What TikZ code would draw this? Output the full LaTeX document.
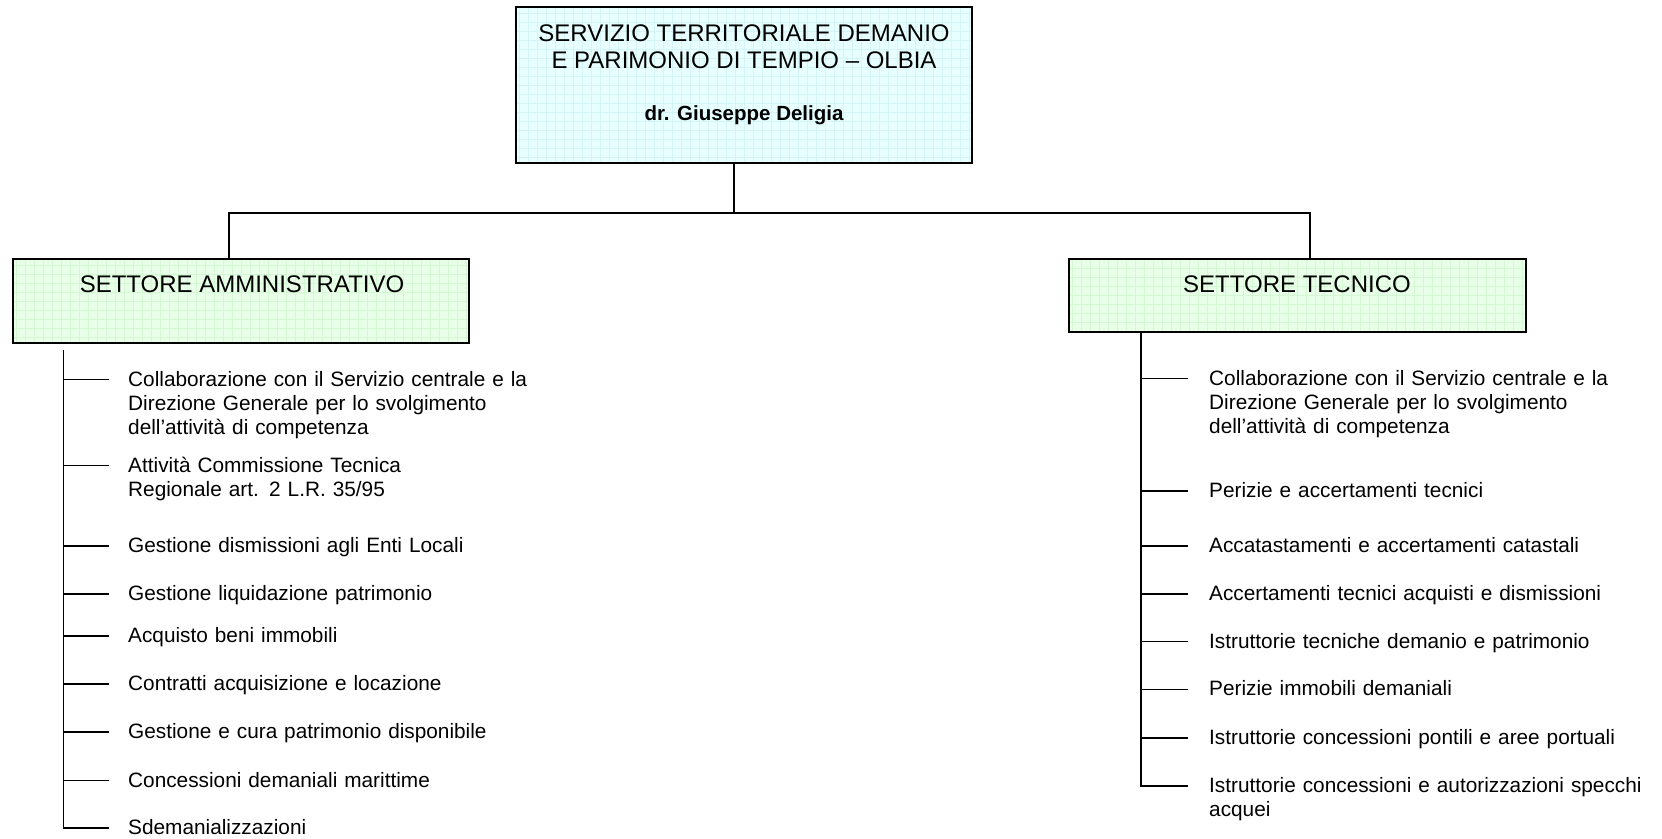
\documentclass[tikz,border=0pt]{standalone}
\usepackage{fontspec}
\setmainfont{Liberation Sans}
\usetikzlibrary{positioning}
\definecolor{servfill}{RGB}{232, 255, 255}
\definecolor{servgrid}{RGB}{212, 244, 248}
\definecolor{settfill}{RGB}{232, 255, 232}
\definecolor{settgrid}{RGB}{212, 247, 212}

\tikzset{
	gridbox/.style={draw=black, line width=2pt, inner sep=0pt,
		path picture={\draw[#1, line width=0.5pt, step=9pt] (path picture bounding box.south west) grid (path picture bounding box.north east);}},
	servbox/.style={gridbox=servgrid, fill=servfill},
	settbox/.style={gridbox=settgrid, fill=settfill},
	headtext/.style={inner sep=0pt, align=center, font=\fontsize{24}{27.6}\selectfont},
	nametext/.style={inner sep=0pt, font=\fontsize{20.5}{24}\selectfont\bfseries},
	taskitem/.style={inner sep=0pt, anchor=base west, align=left, text width=460pt, font=\fontsize{20.8}{24.4}\selectfont},
	conn/.style={line width=1.6pt, line join=miter}
}

\begin{document}
\begin{tikzpicture}[x=1pt, y=-1pt]
			\useasboundingbox (0,0) rectangle (1662,838);

			% servizio
			\node[servbox, minimum width=456pt, minimum height=156pt] (servizio) at (744,85.3) {};
			\node[headtext] (servtitle) at (744,46.7) {SERVIZIO TERRITORIALE DEMANIO\\E PARIMONIO DI TEMPIO – OLBIA};
			\node[nametext] (servname) at (744,115.6) {dr. Giuseppe Deligia};

			% settori
			\node[settbox, minimum width=456pt, minimum height=84pt] (amministrativo) at (241,301) {};
			\node[headtext] (amtitle) at (242,284.5) {SETTORE AMMINISTRATIVO};
			\node[settbox, minimum width=457pt, minimum height=73pt] (tecnico) at (1297.5,295.5) {};
			\node[headtext] (tctitle) at (1297,284.5) {SETTORE TECNICO};

			\coordinate (split) at (734,213);
			\coordinate (amjoin) at (229,213);
			\coordinate (tcjoin) at (1310,213);
			\draw[conn] (servizio.south -| split) -- (split);
			\draw[conn] (amministrativo.north -| amjoin) -- (amjoin) -- (tcjoin) -- (tecnico.north -| tcjoin);

			% settore amministrativo
			\node[taskitem] (a1) at (128,386) {Collaborazione con il Servizio centrale e la\\Direzione Generale per lo svolgimento\\dell’attività di competenza};
			\node[taskitem] (a2) at (128,472) {Attività Commissione Tecnica\\Regionale art. 2 L.R. 35/95};
			\node[taskitem] (a3) at (128,552.5) {Gestione dismissioni agli Enti Locali};
			\node[taskitem] (a4) at (128,600.3) {Gestione liquidazione patrimonio};
			\node[taskitem] (a5) at (128,642.7) {Acquisto beni immobili};
			\node[taskitem] (a6) at (128,690.5) {Contratti acquisizione e locazione};
			\node[taskitem] (a7) at (128,738.2) {Gestione e cura patrimonio disponibile};
			\node[taskitem] (a8) at (128,787) {Concessioni demaniali marittime};
			\node[taskitem] (a9) at (128,834.7) {Sdemanializzazioni};

			\coordinate (amtrunk) at (63.6,350);
			\draw[conn] (amtrunk) -- ([shift={(-64.4pt,6.5pt)}]a9.base west) -- ++(45.4pt,0pt);
			\draw[conn] ([shift={(-64.4pt,6.5pt)}]a1.base west) -- ++(45.4pt,0pt);
			\draw[conn] ([shift={(-64.4pt,6.5pt)}]a2.base west) -- ++(45.4pt,0pt);
			\draw[conn] ([shift={(-64.4pt,6.5pt)}]a3.base west) -- ++(45.4pt,0pt);
			\draw[conn] ([shift={(-64.4pt,6.5pt)}]a4.base west) -- ++(45.4pt,0pt);
			\draw[conn] ([shift={(-64.4pt,6.5pt)}]a5.base west) -- ++(45.4pt,0pt);
			\draw[conn] ([shift={(-64.4pt,6.5pt)}]a6.base west) -- ++(45.4pt,0pt);
			\draw[conn] ([shift={(-64.4pt,6.5pt)}]a7.base west) -- ++(45.4pt,0pt);
			\draw[conn] ([shift={(-64.4pt,6.5pt)}]a8.base west) -- ++(45.4pt,0pt);

			% settore tecnico
			\node[taskitem] (t1) at (1209,385.1) {Collaborazione con il Servizio centrale e la\\Direzione Generale per lo svolgimento\\dell’attività di competenza};
			\node[taskitem] (t2) at (1209,497.5) {Perizie e accertamenti tecnici};
			\node[taskitem] (t3) at (1209,552.5) {Accatastamenti e accertamenti catastali};
			\node[taskitem] (t4) at (1209,600.3) {Accertamenti tecnici acquisti e dismissioni};
			\node[taskitem] (t5) at (1209,648) {Istruttorie tecniche demanio e patrimonio};
			\node[taskitem] (t6) at (1209,695.8) {Perizie immobili demaniali};
			\node[taskitem] (t7) at (1209,744.5) {Istruttorie concessioni pontili e aree portuali};
			\node[taskitem] (t8) at (1209,792.3) {Istruttorie concessioni e autorizzazioni specchi\\acquei};

			\coordinate (tctrunk) at (tecnico.south -| 1141,0);
			\draw[conn] (tctrunk) -- ([shift={(-68pt,6.5pt)}]t8.base west) -- ++(46.6pt,0pt);
			\draw[conn] ([shift={(-68pt,6.5pt)}]t1.base west) -- ++(46.6pt,0pt);
			\draw[conn] ([shift={(-68pt,6.5pt)}]t2.base west) -- ++(46.6pt,0pt);
			\draw[conn] ([shift={(-68pt,6.5pt)}]t3.base west) -- ++(46.6pt,0pt);
			\draw[conn] ([shift={(-68pt,6.5pt)}]t4.base west) -- ++(46.6pt,0pt);
			\draw[conn] ([shift={(-68pt,6.5pt)}]t5.base west) -- ++(46.6pt,0pt);
			\draw[conn] ([shift={(-68pt,6.5pt)}]t6.base west) -- ++(46.6pt,0pt);
			\draw[conn] ([shift={(-68pt,6.5pt)}]t7.base west) -- ++(46.6pt,0pt);
		\end{tikzpicture}
\end{document}
